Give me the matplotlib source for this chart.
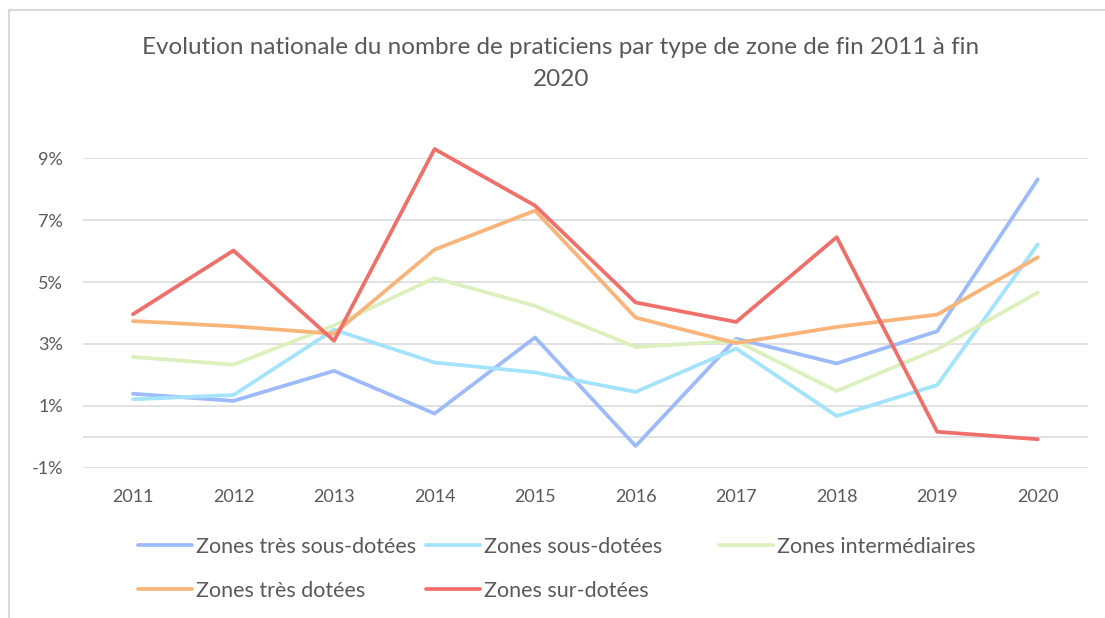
import matplotlib
matplotlib.use("Agg")
import matplotlib.pyplot as plt
from matplotlib.lines import Line2D
from matplotlib.ticker import FixedLocator

plt.rcParams['font.family'] = ['Lato', 'DejaVu Sans']

years = ["2011", "2012", "2013", "2014", "2015", "2016", "2017", "2018", "2019", "2020"]
tres_sous_dotees = [1.39, 1.16, 2.13, 0.75, 3.21, -0.30, 3.17, 2.37, 3.41, 8.32]
sous_dotees = [1.21, 1.35, 3.46, 2.40, 2.08, 1.45, 2.85, 0.67, 1.67, 6.22]
intermediaires = [2.58, 2.33, 3.60, 5.13, 4.23, 2.90, 3.10, 1.48, 2.83, 4.66]
tres_dotees = [3.74, 3.57, 3.33, 6.05, 7.31, 3.85, 3.03, 3.55, 3.95, 5.80]
sur_dotees = [3.96, 6.02, 3.10, 9.30, 7.47, 4.34, 3.71, 6.45, 0.16, -0.08]

series_names = ["Zones très sous-dotées", "Zones sous-dotées", "Zones intermédiaires",
                "Zones très dotées", "Zones sur-dotées"]
series_values = [tres_sous_dotees, sous_dotees, intermediaires, tres_dotees, sur_dotees]
colors = ["#9DBBFB", "#A3E3FB", "#DCF0BE", "#F9B47A", "#EF6F6A"]

ytick_values = [-1, 1, 3, 5, 7, 9]
ytick_labels = ["-1%", "1%", "3%", "5%", "7%", "9%"]

W, H = 1105, 618
fig = plt.figure(figsize=(W / 100, H / 100), dpi=100)
fig.patch.set_facecolor("white")

# chart border (top and left visible)
fig.add_artist(Line2D([8.5 / W, 1104 / W], [1 - 9.5 / H, 1 - 9.5 / H], color="#D9D9D9", lw=1.5))
fig.add_artist(Line2D([8.5 / W, 8.5 / W], [1 - 9.5 / H, 0], color="#D9D9D9", lw=1.5))

left, right = 82.7 / W, 1088 / W
bottom, top = 1 - 467.7 / H, 1 - 158.3 / H
ax = fig.add_axes([left, bottom, right - left, top - bottom])

x = list(range(len(years)))
lines = []
for name, vals, c in zip(series_names, series_values, colors):
    ln, = ax.plot(x, vals, color=c, lw=2.7, label=name, clip_on=False,
                  solid_capstyle="round", solid_joinstyle="round", zorder=3)
    lines.append(ln)

ax.set_xlim(-0.5, len(years) - 0.5)
ax.set_ylim(-1, 9)
ax.set_xticks(x)
ax.set_xticklabels(years)
ax.yaxis.set_major_locator(FixedLocator(ytick_values))
ax.set_yticklabels(ytick_labels)
ax.tick_params(axis="both", length=0, labelsize=13, labelcolor="#595959")
ax.tick_params(axis="y", pad=14)
ax.tick_params(axis="x", pad=15)
ax.grid(axis="y", color="#D9D9D9", lw=1.1, zorder=0)
ax.axhline(0, color="#D9D9D9", lw=1.1, zorder=1)
for s in ax.spines.values():
    s.set_visible(False)
ax.set_facecolor("none")

# title
fig.text(561 / W, 1 - 47 / H, "Evolution nationale du nombre de praticiens par type de zone de fin 2011 à fin",
         ha="center", va="center", fontsize=17.5, color="#595959")
fig.text(561 / W, 1 - 80 / H, "2020", ha="center", va="center", fontsize=17.5, color="#595959")

# legend entries (Excel-like uniform grid)
positions = [(138, 547), (426, 547), (719, 547), (138, 591), (426, 591)]
for ln, (px, py) in zip(lines, positions):
    fig.legend(handles=[ln], labels=[ln.get_label()], loc="center left",
               bbox_to_anchor=(px / W, 1 - py / H), frameon=False,
               borderpad=0, borderaxespad=0, handlelength=2.5, handletextpad=0.2,
               fontsize=15.5, labelcolor="#595959")

fig.savefig("out.png", dpi=100, facecolor="white")
